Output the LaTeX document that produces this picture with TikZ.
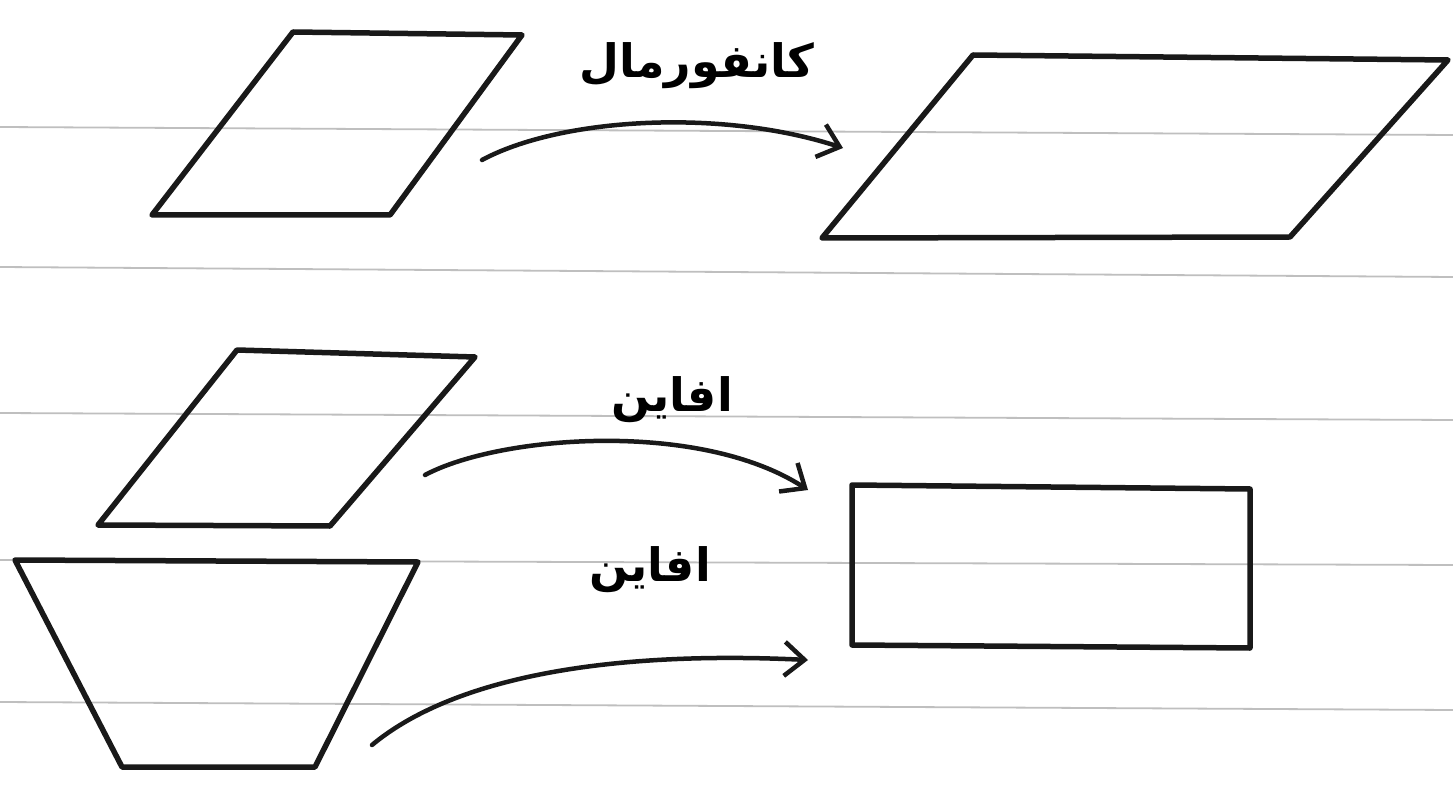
\documentclass[tikz,border=0pt]{standalone}
\usepackage{fontspec}
\newfontfamily\arabicfont[Script=Arabic]{DejaVu Sans}
\TeXXeTstate=1
\usetikzlibrary{arrows.meta}
\tikzset{
  shapeline/.style={line width=5.5pt, line join=round, line cap=round, black!90},
  ruled/.style={line width=1.8pt, gray!50},
  maparrow/.style={line width=4.5pt, line cap=round, black!90,
    -{Straight Barb[length=20pt,width=34pt,line width=4.5pt]}},
  lbl/.style={inner sep=0pt, font=\arabicfont\bfseries\fontsize{46}{52}\selectfont}
}
\begin{document}
\begin{tikzpicture}[x=1pt,y=-1pt]
\useasboundingbox[fill=white] (0,0) rectangle (1453,799);
% ruled paper lines
\draw[ruled] (0,127) -- (1453,135);
\draw[ruled] (0,267) -- (1453,277);
\draw[ruled] (0,413) -- (1453,420);
\draw[ruled] (0,560) -- (1453,565);
\draw[ruled] (0,702) -- (1453,710);
% shapes
\draw[shapeline] (152,215) -- (293,32) -- (522,35) -- (390,215) -- cycle;
\draw[shapeline] (822,238) -- (973,55) -- (1448,60) -- (1290,237) -- cycle;
\draw[shapeline] (98,525) -- (237,350) -- (475,357) -- (330,526) -- cycle;
\draw[shapeline] (15,560) -- (418,562) -- (315,767) -- (122,767) -- cycle;
\draw[shapeline] (852,485) -- (1250,489) -- (1250,648) -- (852,645) -- cycle;
% arrow end points
\coordinate (a1s) at (482,160);
\coordinate (a1e) at (843,148);
\coordinate (a2s) at (425,475);
\coordinate (a2e) at (808,490);
\coordinate (a3s) at (372,745);
\coordinate (a3e) at (808,660);
% arrows
\draw[maparrow] (a1s) .. controls (560,118) and (720,108) .. (a1e);
\draw[maparrow] (a2s) .. controls (500,435) and (700,420) .. (a2e);
\draw[maparrow] (a3s) .. controls (450,680) and (600,650) .. (a3e);
% labels
\node[lbl] (l1) at (697,66) {\beginR کانفورمال\endR};
\node[lbl] (l2) at (672,400) {\beginR افاین\endR};
\node[lbl] (l3) at (650,570) {\beginR افاین\endR};
\end{tikzpicture}
\end{document}
